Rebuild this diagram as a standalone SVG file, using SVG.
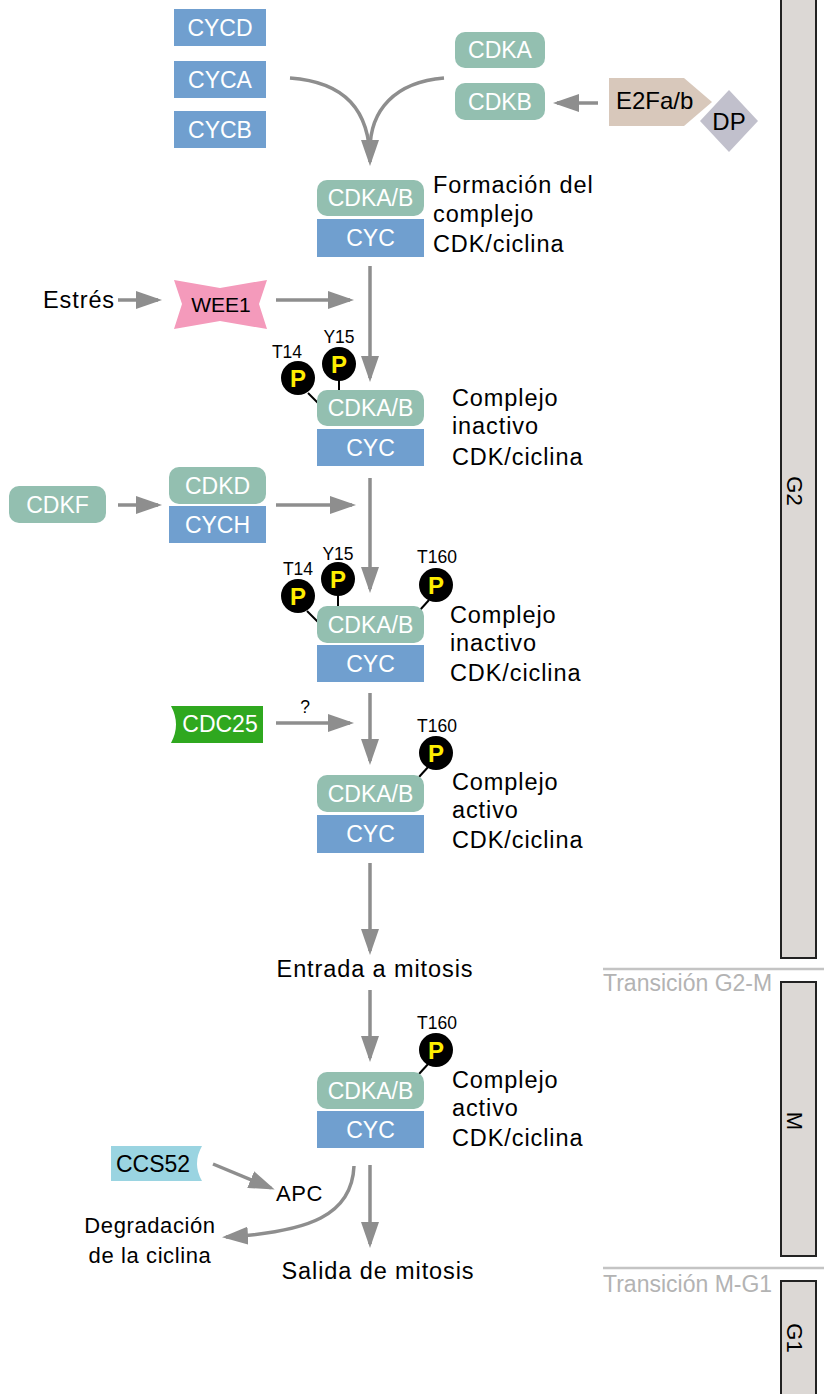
<svg xmlns="http://www.w3.org/2000/svg" width="824" height="1394" viewBox="0 0 824 1394">
<style>
.cyc{fill:#709fcf}
.cdk{fill:#93bfb0}
.wl{font-family:"Liberation Sans",Arial,sans-serif;font-size:23px;fill:#fff;text-anchor:middle}
.bl{font-family:"Liberation Sans",Arial,sans-serif;font-size:23.5px;fill:#000;letter-spacing:0.9px}
.sm{font-family:"Liberation Sans",Arial,sans-serif;font-size:22px;fill:#000;letter-spacing:0.6px}
.site{font-family:"Liberation Sans",Arial,sans-serif;font-size:17.5px;fill:#000;text-anchor:middle}
.pt{font-family:"Liberation Sans",Arial,sans-serif;font-size:24px;font-weight:bold;fill:#ffee00;text-anchor:middle}
.pc{fill:#000}
.lk{stroke:#000;stroke-width:2;fill:none}
.ar{stroke:#8e8e8e;stroke-width:3.5;fill:none}
.bar{fill:#dcd8d5;stroke:#222;stroke-width:2}
.ph{font-family:"Liberation Sans",Arial,sans-serif;font-size:22px;fill:#000;text-anchor:middle}
.tr{font-family:"Liberation Sans",Arial,sans-serif;font-size:23px;fill:#b3b3b3}
.trl{stroke:#c4c4c4;stroke-width:2.5}
</style>
<defs>
<marker id="ah" markerUnits="userSpaceOnUse" markerWidth="26" markerHeight="18" viewBox="0 0 26 18" refX="22" refY="9" orient="auto">
<path d="M0,0 L26,9 L0,18 z" fill="#8e8e8e"/>
</marker>
</defs>

<g id="phases">
<rect class="bar" x="781" y="-5" width="35" height="963"/>
<text class="ph" transform="translate(795,491) rotate(90)" dy="8">G2</text>
<rect class="bar" x="781" y="982" width="35" height="274"/>
<text class="ph" transform="translate(795,1121) rotate(90)" dy="8">M</text>
<rect class="bar" x="781" y="1281" width="35" height="130"/>
<text class="ph" transform="translate(795,1338) rotate(90)" dy="8">G1</text>
<line class="trl" x1="603" y1="969" x2="824" y2="969"/>
<text class="tr" x="603" y="991">Transición G2-M</text>
<line class="trl" x1="603" y1="1268" x2="824" y2="1268"/>
<text class="tr" x="603" y="1292">Transición M-G1</text>
</g>

<g id="connectors">
<path class="ar" d="M290,78 C345,82 370,110 370,162" marker-end="url(#ah)"/>
<path class="ar" d="M444,78 C395,82 370,110 370,150"/>
<path class="ar" d="M598,103 L557,103" marker-end="url(#ah)"/>
<path class="ar" d="M370,266 L370,378" marker-end="url(#ah)"/>
<path class="ar" d="M118,300 L158,300" marker-end="url(#ah)"/>
<path class="ar" d="M276,300 L350,300" marker-end="url(#ah)"/>
<path class="ar" d="M370,478 L370,589" marker-end="url(#ah)"/>
<path class="ar" d="M118,505 L158,505" marker-end="url(#ah)"/>
<path class="ar" d="M276,505 L352,505" marker-end="url(#ah)"/>
<path class="ar" d="M370,693 L370,761" marker-end="url(#ah)"/>
<path class="ar" d="M276,723 L350,723" marker-end="url(#ah)"/>
<text class="site" x="305" y="713">?</text>
<path class="ar" d="M370,863 L370,951" marker-end="url(#ah)"/>
<path class="ar" d="M370,990 L370,1058" marker-end="url(#ah)"/>
<path class="ar" d="M213,1164 L271,1188" marker-end="url(#ah)"/>
<path class="ar" d="M354,1166 C352,1215 310,1232 226,1237" marker-end="url(#ah)"/>
<path class="ar" d="M370,1165 L370,1244" marker-end="url(#ah)"/>
</g>

<g id="cycd"><rect class="cyc" x="174" y="9" width="92" height="37"/><text class="wl" x="220" y="36">CYCD</text></g>
<g id="cyca"><rect class="cyc" x="174" y="61" width="92" height="37"/><text class="wl" x="220" y="88">CYCA</text></g>
<g id="cycb"><rect class="cyc" x="174" y="111" width="92" height="37"/><text class="wl" x="220" y="138">CYCB</text></g>
<g id="cdka"><rect class="cdk" x="455" y="32" width="90" height="36" rx="10"/><text class="wl" x="500" y="58">CDKA</text></g>
<g id="cdkb"><rect class="cdk" x="455" y="83" width="90" height="37" rx="10"/><text class="wl" x="500" y="110">CDKB</text></g>
<g id="e2f">
<polygon points="609,78 684,78 712,102 684,126 609,126" fill="#d8c8bb"/>
<text x="616" y="109" font-family="Liberation Sans, Arial, sans-serif" font-size="24" fill="#000">E2Fa/b</text>
</g>
<g id="dp">
<polygon points="729,90 758,121 729,152 700,121" fill="#c1c0cc"/>
<text x="729" y="130" font-family="Liberation Sans, Arial, sans-serif" font-size="24" fill="#000" text-anchor="middle">DP</text>
</g>

<g id="complex1">
<rect class="cdk" x="317" y="180" width="107" height="36" rx="10"/><text class="wl" x="370.5" y="206">CDKA/B</text>
<rect class="cyc" x="317" y="219" width="107" height="38"/><text class="wl" x="370.5" y="246">CYC</text>
<text class="bl" x="433" y="193">Formación del</text>
<text class="bl" x="433" y="222">complejo</text>
<text class="bl" x="433" y="252">CDK/ciclina</text>
</g>

<g id="estres"><text class="bl" x="43" y="308">Estrés</text></g>
<g id="wee1">
<polygon points="174,280 220,288 267,280 259,304 267,329 220,321 174,329 182,304" fill="#f49abb"/>
<text x="221" y="312" font-family="Liberation Sans, Arial, sans-serif" font-size="21" fill="#000" text-anchor="middle">WEE1</text>
</g>

<g id="complex2">
<line class="lk" x1="308" y1="393" x2="318" y2="403"/>
<line class="lk" x1="339" y1="380" x2="339" y2="390"/>
<circle class="pc" cx="298" cy="378" r="17"/><text class="pt" x="298" y="387">P</text>
<circle class="pc" cx="339" cy="364" r="17"/><text class="pt" x="339" y="373">P</text>
<text class="site" x="287" y="358">T14</text>
<text class="site" x="339" y="343">Y15</text>
<rect class="cdk" x="317" y="390" width="107" height="36" rx="10"/><text class="wl" x="370.5" y="416">CDKA/B</text>
<rect class="cyc" x="317" y="429" width="107" height="37"/><text class="wl" x="370.5" y="456">CYC</text>
<text class="bl" x="452" y="406">Complejo</text>
<text class="bl" x="452" y="434">inactivo</text>
<text class="bl" x="452" y="465">CDK/ciclina</text>
</g>

<g id="cdkf"><rect class="cdk" x="9" y="486" width="97" height="37" rx="10"/><text class="wl" x="57.5" y="513">CDKF</text></g>
<g id="cdkd-cych">
<rect class="cdk" x="169" y="467" width="97" height="37" rx="10"/><text class="wl" x="217.5" y="494">CDKD</text>
<rect class="cyc" x="169" y="506" width="97" height="37"/><text class="wl" x="217.5" y="533">CYCH</text>
</g>

<g id="complex3">
<line class="lk" x1="307" y1="611" x2="318" y2="622"/>
<line class="lk" x1="338" y1="595" x2="338" y2="606"/>
<line class="lk" x1="429" y1="600" x2="420" y2="610"/>
<circle class="pc" cx="298" cy="596" r="17"/><text class="pt" x="298" y="605">P</text>
<circle class="pc" cx="338" cy="579" r="17"/><text class="pt" x="338" y="588">P</text>
<circle class="pc" cx="436" cy="585" r="17"/><text class="pt" x="436" y="594">P</text>
<text class="site" x="298" y="575">T14</text>
<text class="site" x="338" y="560">Y15</text>
<text class="site" x="437" y="563">T160</text>
<rect class="cdk" x="317" y="606" width="107" height="37" rx="10"/><text class="wl" x="370.5" y="633">CDKA/B</text>
<rect class="cyc" x="317" y="645" width="107" height="37"/><text class="wl" x="370.5" y="672">CYC</text>
<text class="bl" x="450" y="623">Complejo</text>
<text class="bl" x="450" y="651">inactivo</text>
<text class="bl" x="450" y="681">CDK/ciclina</text>
</g>

<g id="cdc25">
<path d="M171,706 L263,706 L263,743 L171,743 Q181,724.5 171,706 z" fill="#2fa81f"/>
<text class="wl" x="220" y="732">CDC25</text>
</g>

<g id="complex4">
<line class="lk" x1="429" y1="766" x2="419" y2="777"/>
<circle class="pc" cx="436" cy="753" r="17"/><text class="pt" x="436" y="762">P</text>
<text class="site" x="437" y="732">T160</text>
<rect class="cdk" x="317" y="775" width="107" height="37" rx="10"/><text class="wl" x="370.5" y="802">CDKA/B</text>
<rect class="cyc" x="317" y="815" width="107" height="38"/><text class="wl" x="370.5" y="842">CYC</text>
<text class="bl" x="452" y="790">Complejo</text>
<text class="bl" x="452" y="818">activo</text>
<text class="bl" x="452" y="848">CDK/ciclina</text>
</g>

<g id="entrada"><text class="bl" x="375" y="977" text-anchor="middle">Entrada a mitosis</text></g>

<g id="complex5">
<line class="lk" x1="429" y1="1063" x2="419" y2="1074"/>
<circle class="pc" cx="436" cy="1050" r="17"/><text class="pt" x="436" y="1059">P</text>
<text class="site" x="437" y="1029">T160</text>
<rect class="cdk" x="317" y="1072" width="107" height="37" rx="10"/><text class="wl" x="370.5" y="1099">CDKA/B</text>
<rect class="cyc" x="317" y="1111" width="107" height="37"/><text class="wl" x="370.5" y="1138">CYC</text>
<text class="bl" x="452" y="1088">Complejo</text>
<text class="bl" x="452" y="1116">activo</text>
<text class="bl" x="452" y="1146">CDK/ciclina</text>
</g>

<g id="ccs52">
<path d="M111,1146 L202,1146 Q192,1163.5 202,1181 L111,1181 z" fill="#9ad4e1"/>
<text x="153" y="1172" font-family="Liberation Sans, Arial, sans-serif" font-size="23" fill="#000" text-anchor="middle">CCS52</text>
</g>
<g id="apc"><text class="sm" x="276" y="1201">APC</text></g>
<g id="degradacion">
<text class="sm" x="150" y="1233" text-anchor="middle">Degradación</text>
<text class="sm" x="150" y="1263" text-anchor="middle">de la ciclina</text>
</g>
<g id="salida"><text class="bl" x="378" y="1279" text-anchor="middle">Salida de mitosis</text></g>
</svg>
